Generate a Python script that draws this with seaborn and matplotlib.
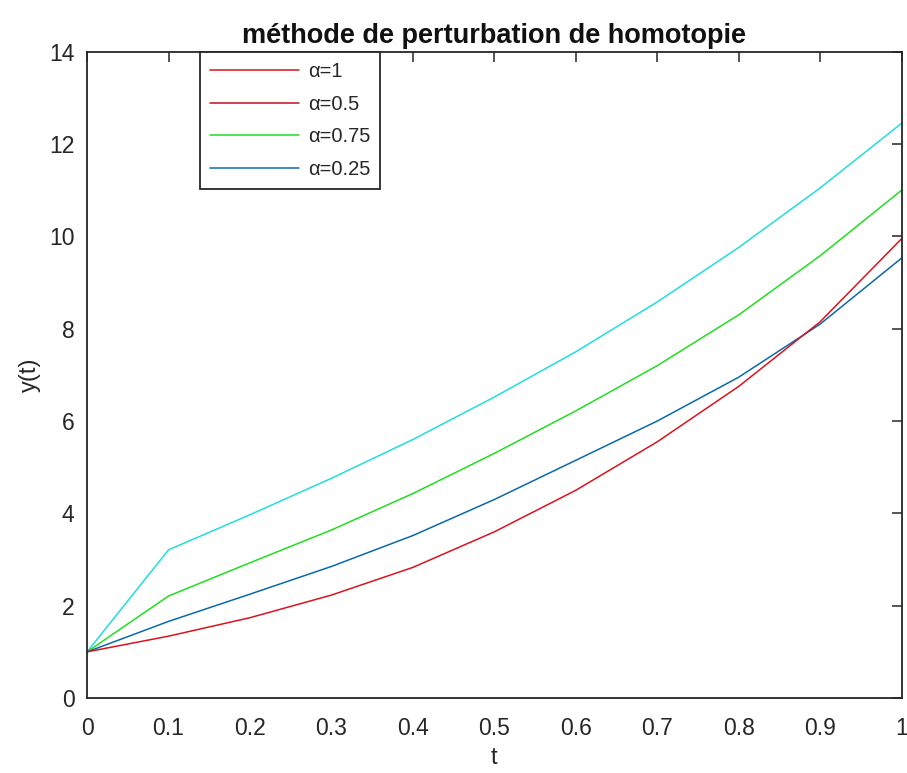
import matplotlib
matplotlib.use("Agg")
import matplotlib.pyplot as plt
from matplotlib.lines import Line2D
import seaborn as sns
import pandas as pd

t = [0.0, 0.1, 0.2, 0.3, 0.4, 0.5, 0.6, 0.7, 0.8, 0.9, 1.0]
y_alpha1 = [1.0, 1.34, 1.74, 2.23, 2.83, 3.60, 4.50, 5.55, 6.75, 8.15, 9.95]
y_alpha075 = [1.0, 2.21, 2.93, 3.64, 4.43, 5.30, 6.22, 7.20, 8.30, 9.58, 11.0]
y_alpha025 = [1.0, 1.66, 2.25, 2.85, 3.52, 4.30, 5.15, 6.00, 6.95, 8.10, 9.53]
y_cyan = [1.0, 3.21, 3.97, 4.76, 5.60, 6.52, 7.50, 8.58, 9.76, 11.05, 12.45]

legend_labels = ["α=1", "α=0.5", "α=0.75", "α=0.25"]
xticks = [0, 0.1, 0.2, 0.3, 0.4, 0.5, 0.6, 0.7, 0.8, 0.9, 1]
xticklabels = ["0", "0.1", "0.2", "0.3", "0.4", "0.5", "0.6", "0.7", "0.8", "0.9", "1"]
yticks = [0, 2, 4, 6, 8, 10, 12, 14]

sns.set_style("white")
plt.rcParams['font.family'] = ['Liberation Sans', 'DejaVu Sans']

fig = plt.figure(figsize=(9.07, 7.73), dpi=100)
ax = fig.add_axes([0.096, 0.097, 0.898, 0.836])

c_red = "#d8141e"
c_green = "#22dd22"
c_blue = "#0a6aa8"
c_cyan = "#22dddd"
lw = 1.1

df = pd.DataFrame({"t": t, "a1": y_alpha1, "a075": y_alpha075,
                   "a025": y_alpha025, "cy": y_cyan})

sns.lineplot(data=df, x="t", y="cy", ax=ax, color=c_cyan, lw=lw)
sns.lineplot(data=df, x="t", y="a075", ax=ax, color=c_green, lw=lw)
sns.lineplot(data=df, x="t", y="a025", ax=ax, color=c_blue, lw=lw)
sns.lineplot(data=df, x="t", y="a1", ax=ax, color=c_red, lw=lw)

ax.set_xlim(0, 1)
ax.set_ylim(0, 14)
ax.set_xticks(xticks)
ax.set_xticklabels(xticklabels)
ax.set_yticks(yticks)

for s in ax.spines.values():
    s.set_visible(True)
    s.set_color("#262626")
    s.set_linewidth(1.3)

ax.tick_params(axis="both", direction="in", length=7, width=1.1,
               top=True, right=True, labelsize=16.5, colors="#262626")
ax.tick_params(axis="x", pad=14)
ax.tick_params(axis="y", pad=9)

ax.set_xlabel("t", fontsize=17, color="#262626", labelpad=5)
ax.set_ylabel("y(t)", fontsize=17, color="#262626", labelpad=6)
ax.set_title("méthode de perturbation de homotopie", fontsize=19.5,
             fontweight="bold", color="#111111", pad=6)

handles = [Line2D([], [], color=c_red, lw=lw),
           Line2D([], [], color="#c01020", lw=lw),
           Line2D([], [], color=c_green, lw=lw),
           Line2D([], [], color=c_blue, lw=lw)]
leg = ax.legend(handles, legend_labels, loc="upper left",
                bbox_to_anchor=(0.1387, 1.0), borderaxespad=0,
                fontsize=14.5, frameon=True,
                fancybox=False, framealpha=1, edgecolor="#262626",
                handlelength=4.4, borderpad=0.5, labelspacing=0.68,
                handletextpad=0.45)
leg.get_frame().set_linewidth(1.3)

fig.savefig("out.png", dpi=100)
